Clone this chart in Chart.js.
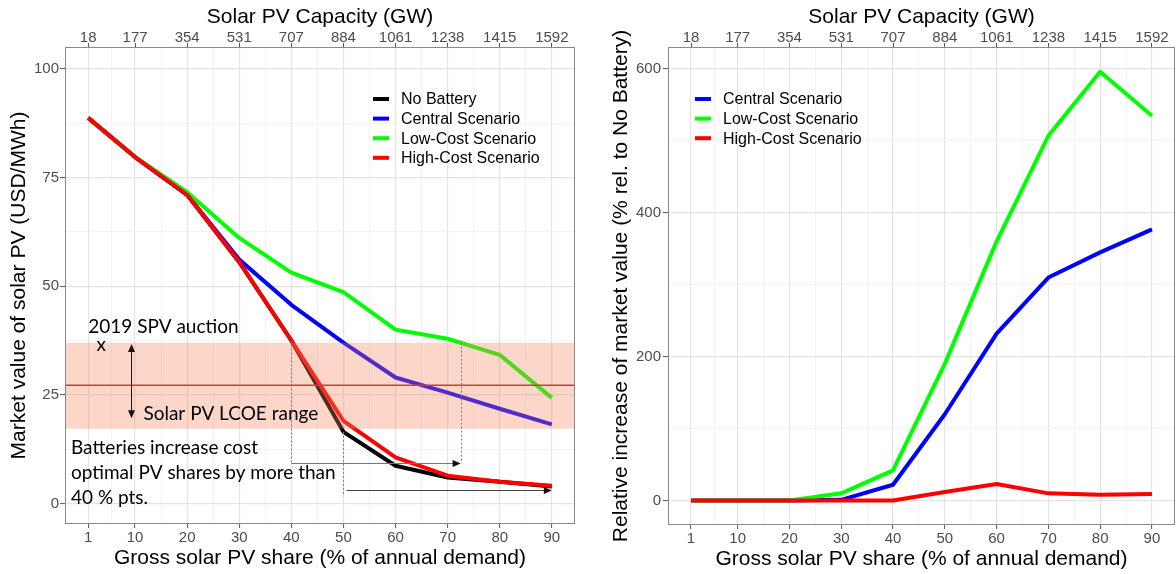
<!DOCTYPE html>
<html><head><meta charset="utf-8">
<script src="https://cdn.jsdelivr.net/npm/chart.js@4.4.1/dist/chart.umd.min.js"></script>
<style>
html,body{margin:0;padding:0;background:#fff;overflow:hidden}
#wrap{position:relative;width:1176px;height:574px;background:#fff}
canvas{position:absolute;top:0}
#c1{left:0}
#c2{left:588px}
</style></head><body>
<div id="wrap"><canvas id="c1" width="588" height="574"></canvas><canvas id="c2" width="588" height="574"></canvas></div>
<script>
// ---------- data ----------
const shares = [1, 10, 20, 30, 40, 50, 60, 70, 80, 90];
const capacityGW = ['18', '177', '354', '531', '707', '884', '1061', '1238', '1415', '1592'];
const xMinor = [5.5, 15, 25, 35, 45, 55, 65, 75, 85];

const mvTicks = [0, 25, 50, 75, 100];
const mvMinor = [12.5, 37.5, 62.5, 87.5];
const riTicks = [0, 200, 400, 600];
const riMinor = [100, 300, 500];

const mvNoBattery = [88.7, 79.7, 71.0, 55.5, 37.5, 16.5, 8.7, 6.0, 5.0, 3.9];
const mvCentral   = [88.7, 79.7, 71.0, 56.1, 45.7, 37.0, 29.0, 25.5, 21.8, 18.2];
const mvLowCost   = [88.7, 79.7, 71.6, 61.1, 53.1, 48.6, 40.0, 37.9, 34.2, 24.3];
const mvHighCost  = [88.7, 79.7, 71.0, 55.6, 37.5, 19.0, 10.6, 6.4, 5.0, 4.1];

const riCentral  = [0, 0, 0, 1, 22, 120, 232, 310, 345, 377];
const riLowCost  = [0, 0, 0, 10, 42, 190, 360, 507, 596, 535];
const riHighCost = [0, 0, 0, 0, 0, 12, 23, 10, 8, 9];

const lcoeLow = 17.2, lcoeHigh = 37.0, lcoeRef = 27.2;

// ---------- styling ----------
const FONT = "'Liberation Sans', Arial, sans-serif";
const NOTE_FONT = "Lato, 'Open Sans', sans-serif";
const COL = {none:'#000000', central:'#0000ff', low:'#00ff00', high:'#ff0000'};
const TITLE_SIZE = 21;

function pts(ys){ return shares.map((x, i) => ({x: x, y: ys[i]})); }
function ds(label, ys, color, order){
  return {label, data: pts(ys), borderColor: color, backgroundColor: color, borderWidth: 4,
    pointRadius: 0, pointHoverRadius: 0, tension: 0, borderJoinStyle: 'round',
    borderCapStyle: 'butt', fill: false, order: order};
}
function isMajor(list, c){ return c.tick && list.includes(c.tick.value); }
function grid(majors){
  return {
    color: c => isMajor(majors, c) ? '#e4e4e4' : '#f2f2f2',
    lineWidth: c => isMajor(majors, c) ? 1.2 : 0.9,
    drawTicks: true, tickLength: 4,
    tickColor: c => isMajor(majors, c) ? '#555555' : 'rgba(0,0,0,0)',
    tickWidth: 1
  };
}
function buildScales(o){
  const xMaj = shares;
  return {
    x: {
      type: 'linear', position: 'bottom', min: -3.45, max: 94.45,
      afterBuildTicks: s => { s.ticks = xMaj.concat(xMinor).sort((a,b)=>a-b).map(v => ({value: v})); },
      afterFit: s => { s.height = o.bottomH; },
      border: {display: false},
      grid: grid(xMaj),
      ticks: {autoSkip: false, maxRotation: 0, minRotation: 0, padding: o.xPad,
        color: '#4d4d4d', font: {family: FONT, size: 15},
        callback: v => xMaj.includes(v) ? String(v) : ''},
      title: {display: true, text: 'Gross solar PV share (% of annual demand)', color: '#000',
        font: {family: FONT, size: TITLE_SIZE}, padding: {top: 0, bottom: o.xTitlePad}}
    },
    x2: {
      type: 'linear', position: 'top', min: -3.45, max: 94.45,
      afterBuildTicks: s => { s.ticks = shares.map(v => ({value: v})); },
      afterFit: s => { s.height = o.topH; },
      border: {display: false},
      grid: {drawOnChartArea: false, drawTicks: true, tickLength: 4, tickColor: '#555555'},
      ticks: {autoSkip: false, maxRotation: 0, minRotation: 0, padding: -4,
        color: '#4d4d4d', font: {family: FONT, size: 15},
        callback: (v, i) => capacityGW[shares.indexOf(v)]},
      title: {display: true, text: 'Solar PV Capacity (GW)', color: '#000',
        font: {family: FONT, size: TITLE_SIZE}, padding: {top: 4.4, bottom: 0}}
    },
    y: {
      type: 'linear', position: 'left', min: o.yMin, max: o.yMax,
      afterBuildTicks: s => { s.ticks = o.yMajor.concat(o.yMinorL).sort((a,b)=>a-b).map(v => ({value: v})); },
      afterFit: s => { s.width = o.leftW; },
      border: {display: false},
      grid: Object.assign(grid(o.yMajor), {tickLength: 5}),
      ticks: {autoSkip: false, padding: o.yPad, color: '#4d4d4d', font: {family: FONT, size: 15},
        callback: v => o.yMajor.includes(v) ? String(v) : ''},
      title: {display: true, text: o.yTitle, color: '#000',
        font: {family: FONT, size: TITLE_SIZE}, padding: {top: o.yTitlePad, bottom: 0}}
    }
  };
}

const framePlugin = {
  id: 'frame',
  afterDraw(chart){
    const {ctx, chartArea: a} = chart;
    ctx.save();
    ctx.strokeStyle = '#8a8a8a'; ctx.lineWidth = 1;
    ctx.strokeRect(a.left + 0.5, a.top + 0.5, a.right - a.left - 1, a.bottom - a.top - 1);
    ctx.restore();
  }
};

function legendPlugin(x0, y0, step){
  return {
    id: 'keyLegend',
    afterDraw(chart){
      const ctx = chart.ctx;
      ctx.save();
      ctx.font = '16px ' + FONT; ctx.textBaseline = 'middle'; ctx.textAlign = 'left';
      chart.data.datasets.slice().sort((a, b) => a.legendIndex - b.legendIndex).forEach((d, i) => {
        const y = y0 + i * step;
        ctx.strokeStyle = d.borderColor; ctx.lineWidth = 4; ctx.lineCap = 'butt';
        ctx.beginPath(); ctx.moveTo(x0, y); ctx.lineTo(x0 + 16, y); ctx.stroke();
        ctx.fillStyle = '#000'; ctx.fillText(d.label, x0 + 28, y + 1);
      });
      ctx.restore();
    }
  };
}

// annotation geometry (data units)
const noteAuction = {x: 1.0, y: 40.6, text: '2019 SPV auction'};
const noteAuctionMark = {x: 3.5, y: 36.4, text: 'x'};
const noteRange = {x: 11.6, y: 20.6, text: 'Solar PV LCOE range'};
const rangeArrow = {x: 9.25, y1: 36.7, y2: 19.6};
const noteBatteries = {x: -2.3, ys: [12.8, 7.1, 1.3],
  lines: ['Batteries increase cost', 'optimal PV shares by more than', '40 % pts.']};
const shiftHigh = {x1: 40, x2: 72.5, yTop1: 37.5, yTop2: 37.0, yArrow: 9.3};
const shiftLow = {x1: 50, x2: 90, yTop: 16.5, yBottom: 1.7, yArrow: 3.1, xStart: 50.6};

function arrowHead(ctx, x, y, dir){
  const L = 8, W = 3.5;
  ctx.beginPath();
  if (dir === 'right'){ ctx.moveTo(x, y); ctx.lineTo(x - L, y - W); ctx.lineTo(x - L, y + W); }
  if (dir === 'up'){ ctx.moveTo(x, y); ctx.lineTo(x - W, y + L); ctx.lineTo(x + W, y + L); }
  if (dir === 'down'){ ctx.moveTo(x, y); ctx.lineTo(x - W, y - L); ctx.lineTo(x + W, y - L); }
  ctx.closePath(); ctx.fill();
}

const bandPlugin = {
  id: 'lcoeBand',
  afterDatasetsDraw(chart){
    const {ctx, chartArea: a} = chart;
    const X = v => chart.scales.x.getPixelForValue(v);
    const Y = v => chart.scales.y.getPixelForValue(v);
    ctx.save();
    ctx.fillStyle = 'rgba(248,130,95,0.33)';
    ctx.fillRect(a.left, Y(lcoeHigh), a.right - a.left, Y(lcoeLow) - Y(lcoeHigh));
    ctx.strokeStyle = '#c9412f'; ctx.lineWidth = 1.5;
    ctx.beginPath(); ctx.moveTo(a.left, Y(lcoeRef)); ctx.lineTo(a.right, Y(lcoeRef)); ctx.stroke();

    // dashed guides
    ctx.strokeStyle = '#7a7a7a'; ctx.lineWidth = 1; ctx.setLineDash([2, 2]);
    ctx.beginPath();
    ctx.moveTo(Math.round(X(shiftHigh.x1)) + 0.5, Y(shiftHigh.yTop1)); ctx.lineTo(Math.round(X(shiftHigh.x1)) + 0.5, Y(shiftHigh.yArrow));
    ctx.moveTo(Math.round(X(shiftHigh.x2)) + 0.5, Y(shiftHigh.yTop2)); ctx.lineTo(Math.round(X(shiftHigh.x2)) + 0.5, Y(shiftHigh.yArrow));
    ctx.moveTo(Math.round(X(shiftLow.x1)) + 0.5, Y(shiftLow.yTop)); ctx.lineTo(Math.round(X(shiftLow.x1)) + 0.5, Y(shiftLow.yBottom));
    ctx.stroke();
    ctx.setLineDash([]);

    // horizontal arrows
    ctx.strokeStyle = '#777'; ctx.fillStyle = '#111';
    let ya = Math.round(Y(shiftHigh.yArrow)) + 0.5;
    ctx.beginPath(); ctx.moveTo(X(shiftHigh.x1), ya); ctx.lineTo(X(shiftHigh.x2) - 6, ya); ctx.stroke();
    arrowHead(ctx, X(shiftHigh.x2), ya, 'right');
    ctx.strokeStyle = '#444';
    ya = Math.round(Y(shiftLow.yArrow)) + 0.5;
    ctx.beginPath(); ctx.moveTo(X(shiftLow.xStart), ya); ctx.lineTo(X(shiftLow.x2) - 6, ya); ctx.stroke();
    arrowHead(ctx, X(shiftLow.x2), ya, 'right');

    // vertical double arrow
    const xv = Math.round(X(rangeArrow.x)) + 0.5;
    ctx.strokeStyle = '#111'; ctx.fillStyle = '#111';
    ctx.beginPath(); ctx.moveTo(xv, Y(rangeArrow.y1) + 6); ctx.lineTo(xv, Y(rangeArrow.y2) - 6); ctx.stroke();
    arrowHead(ctx, xv, Y(rangeArrow.y1), 'up');
    arrowHead(ctx, xv, Y(rangeArrow.y2), 'down');

    // texts
    ctx.fillStyle = '#000'; ctx.textBaseline = 'middle'; ctx.textAlign = 'left';
    ctx.font = '19px ' + NOTE_FONT;
    ctx.fillText(noteAuction.text, X(noteAuction.x), Y(noteAuction.y));
    ctx.fillText(noteRange.text, X(noteRange.x), Y(noteRange.y));
    noteBatteries.lines.forEach((t, i) => ctx.fillText(t, X(noteBatteries.x), Y(noteBatteries.ys[i])));
    ctx.textAlign = 'center';
    ctx.fillText(noteAuctionMark.text, X(noteAuctionMark.x), Y(noteAuctionMark.y));
    ctx.restore();
  }
};

const base = {
  responsive: false, animation: false, events: [],
  plugins: {legend: {display: false}, tooltip: {enabled: false}}
};

// ---------- left chart ----------
const leftSets = [
  Object.assign(ds('No Battery', mvNoBattery, COL.none, 3), {legendIndex: 0}),
  Object.assign(ds('Central Scenario', mvCentral, COL.central, 2), {legendIndex: 1}),
  Object.assign(ds('Low-Cost Scenario', mvLowCost, COL.low, 1), {legendIndex: 2}),
  Object.assign(ds('High-Cost Scenario', mvHighCost, COL.high, 0), {legendIndex: 3})
];
new Chart(document.getElementById('c1'), {
  type: 'line',
  data: {datasets: leftSets},
  options: Object.assign({}, base, {
    layout: {padding: {left: 0, right: 13, top: 0, bottom: 0}},
    scales: buildScales({bottomH: 50, topH: 47, leftW: 65, xPad: 1, yPad: 1, xTitlePad: 3.4,
      yMin: -4.7, yMax: 105, yMajor: mvTicks, yMinorL: mvMinor,
      yTitle: 'Market value of solar PV (USD/MWh)', yTitlePad: 6.4})
  }),
  plugins: [bandPlugin, framePlugin, legendPlugin(373, 99, 19.6)]
});

// ---------- right chart ----------
const rightSets = [
  Object.assign(ds('Central Scenario', riCentral, COL.central, 2), {legendIndex: 0}),
  Object.assign(ds('Low-Cost Scenario', riLowCost, COL.low, 1), {legendIndex: 1}),
  Object.assign(ds('High-Cost Scenario', riHighCost, COL.high, 0), {legendIndex: 2})
];
new Chart(document.getElementById('c2'), {
  type: 'line',
  data: {datasets: rightSets},
  options: Object.assign({}, base, {
    layout: {padding: {left: 0, right: 1, top: 0, bottom: 0}},
    scales: buildScales({bottomH: 49, topH: 47, leftW: 80, xPad: 1, yPad: 2, xTitlePad: 2.4,
      yMin: -34, yMax: 630.5, yMajor: riTicks, yMinorL: riMinor,
      yTitle: 'Relative increase of market value (% rel. to No Battery)', yTitlePad: 20.4})
  }),
  plugins: [framePlugin, legendPlugin(107, 99, 19.6)]
});
</script>
</body></html>
